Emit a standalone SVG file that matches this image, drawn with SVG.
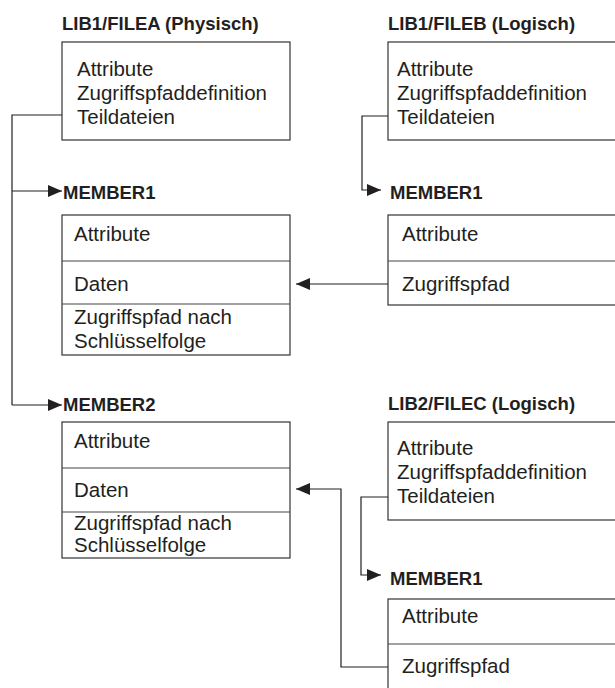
<svg xmlns="http://www.w3.org/2000/svg" width="615" height="688" viewBox="0 0 615 688">
<defs>
<marker id="ah" viewBox="0 0 14 12" refX="14" refY="6" markerWidth="14" markerHeight="12" markerUnits="userSpaceOnUse" orient="auto">
<path d="M0,0 L14,6 L0,12 Z" fill="#231f20"/>
</marker>
<style>
.box{fill:#fff;stroke:#333;stroke-width:1.2}
.div{stroke:#444;stroke-width:1.2}
.t{font-family:"Liberation Sans",Arial,sans-serif;font-size:20.5px;fill:#231f20}
.h{font-family:"Liberation Sans",Arial,sans-serif;font-size:18.5px;font-weight:bold;fill:#231f20}
.c{fill:none;stroke:#231f20;stroke-width:1.2}
</style>
</defs>
<rect width="615" height="688" fill="#fff"/>

<g id="fileA">
<text class="h" x="62" y="30">LIB1/FILEA (Physisch)</text>
<rect class="box" x="62" y="42" width="228" height="98"/>
<text class="t" x="77" y="76">Attribute</text>
<text class="t" x="77" y="100">Zugriffspfaddefinition</text>
<text class="t" x="77" y="124">Teildateien</text>
</g>

<g id="fileA-member1">
<text class="h" x="63" y="199">MEMBER1</text>
<rect class="box" x="62" y="215" width="228" height="140"/>
<line class="div" x1="62" y1="261" x2="290" y2="261"/>
<line class="div" x1="62" y1="304" x2="290" y2="304"/>
<text class="t" x="74" y="241">Attribute</text>
<text class="t" x="74" y="291">Daten</text>
<text class="t" x="74" y="324">Zugriffspfad nach</text>
<text class="t" x="74" y="348">Schlüsselfolge</text>
</g>

<g id="fileA-member2">
<text class="h" x="63" y="411">MEMBER2</text>
<rect class="box" x="62" y="422" width="228" height="136"/>
<line class="div" x1="62" y1="468" x2="290" y2="468"/>
<line class="div" x1="62" y1="512" x2="290" y2="512"/>
<text class="t" x="74" y="448">Attribute</text>
<text class="t" x="74" y="497">Daten</text>
<text class="t" x="74" y="530">Zugriffspfad nach</text>
<text class="t" x="74" y="552">Schlüsselfolge</text>
</g>

<g id="fileB">
<text class="h" x="388" y="30">LIB1/FILEB (Logisch)</text>
<rect class="box" x="388" y="42" width="240" height="98"/>
<text class="t" x="397" y="76">Attribute</text>
<text class="t" x="397" y="100">Zugriffspfaddefinition</text>
<text class="t" x="397" y="124">Teildateien</text>
</g>

<g id="fileB-member1">
<text class="h" x="390" y="199">MEMBER1</text>
<rect class="box" x="388" y="215" width="240" height="90"/>
<line class="div" x1="388" y1="261" x2="628" y2="261"/>
<text class="t" x="402" y="241">Attribute</text>
<text class="t" x="402" y="291">Zugriffspfad</text>
</g>

<g id="fileC">
<text class="h" x="388" y="410">LIB2/FILEC (Logisch)</text>
<rect class="box" x="388" y="422" width="240" height="98"/>
<text class="t" x="397" y="455">Attribute</text>
<text class="t" x="397" y="479">Zugriffspfaddefinition</text>
<text class="t" x="397" y="503">Teildateien</text>
</g>

<g id="fileC-member1">
<text class="h" x="390" y="585">MEMBER1</text>
<rect class="box" x="388" y="599" width="240" height="100"/>
<line class="div" x1="388" y1="644" x2="628" y2="644"/>
<text class="t" x="402" y="623">Attribute</text>
<text class="t" x="402" y="673">Zugriffspfad</text>
</g>

<g id="connectors">
<polyline class="c" points="62,115 12,115 12,405"/>
<line class="c" x1="12" y1="191" x2="62" y2="191" marker-end="url(#ah)"/>
<line class="c" x1="12" y1="405" x2="62" y2="405" marker-end="url(#ah)"/>
<polyline class="c" points="388,116 362,116 362,190 381,190" marker-end="url(#ah)"/>
<line class="c" x1="388" y1="284" x2="296" y2="284" marker-end="url(#ah)"/>
<polyline class="c" points="388,497 361,497 361,575 381,575" marker-end="url(#ah)"/>
<polyline class="c" points="388,667 341,667 341,489 296,489" marker-end="url(#ah)"/>
</g>
</svg>
